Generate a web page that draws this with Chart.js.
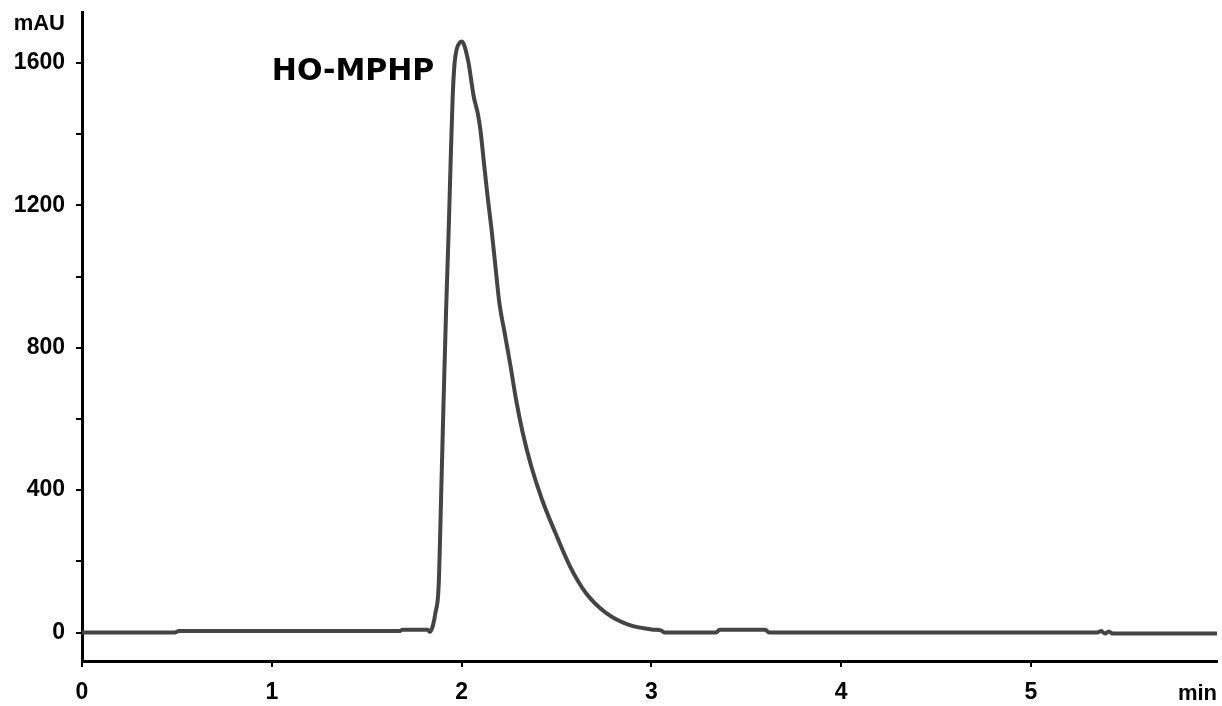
<!DOCTYPE html>
<html>
<head>
<meta charset="utf-8">
<script src="https://cdn.jsdelivr.net/npm/chart.js@4/dist/chart.umd.min.js"></script>
<style>
  html, body { margin: 0; padding: 0; background: #fff; }
  #wrap { width: 1222px; height: 706px; position: relative; }
</style>
</head>
<body>
<div id="wrap"><canvas id="chromatogram"></canvas></div>
<script>
// retention time (min) and absorbance (mAU)
var times = [0, 0.49, 0.51, 1.67, 1.69, 1.82, 1.833, 1.848, 1.862, 1.879, 1.893, 1.905, 1.918,
	1.932, 1.942, 1.953, 1.963, 1.975, 1.99, 2.0, 2.01, 2.022, 2.037, 2.064, 2.085, 2.099,
	2.118, 2.137, 2.158, 2.178, 2.198, 2.228, 2.258, 2.287, 2.322, 2.367, 2.424, 2.494,
	2.571, 2.655, 2.761, 2.878, 3.01, 3.05, 3.07, 3.34, 3.36, 3.6, 3.62,
	5.35, 5.37, 5.39, 5.41, 5.43, 5.98];
var signal = [0, 0, 4, 4, 8, 8, 2, 18, 55, 130, 400, 650, 900,
	1131, 1318, 1505, 1599, 1640, 1657, 1660, 1655, 1635, 1599, 1505, 1459, 1412,
	1318, 1225, 1131, 1030, 930, 838, 748, 654, 561, 467, 373, 280,
	186, 111, 55, 22, 8, 6, 0, 0, 8, 8, 0,
	0, 4, -3, 3, -3, -3];

var xTicks = [0, 1, 2, 3, 4, 5];
var yTicks = [0, 200, 400, 600, 800, 1000, 1200, 1400, 1600];
var yLabelled = [0, 400, 800, 1200, 1600];

var peakName = 'HO-MPHP';
var peakLabelAt = [1.0, 1552];

var tickFont = { family: '"Liberation Sans", Arial, sans-serif', size: 23, weight: 'bold' };

var points = [];
for (var i = 0; i < times.length; i++) {
	points.push({ x: times[i], y: signal[i] });
}

// no extra room for overflowing tick labels, the layout padding decides
function noLabelPadding(scale) {
	scale.paddingTop = 0;
	scale.paddingBottom = 0;
	scale.paddingLeft = 0;
	scale.paddingRight = 0;
}

var textPlugin = {
	id: 'chromText',
	afterDraw: function (chart) {
		var ctx = chart.ctx;
		var area = chart.chartArea;
		var xs = chart.scales.x, ys = chart.scales.y;
		ctx.save();
		ctx.fillStyle = '#000';
		ctx.textBaseline = 'alphabetic';
		ctx.font = 'bold 22px "Liberation Sans", Arial, sans-serif';
		ctx.textAlign = 'right';
		ctx.fillText('mAU', area.left - 17, 30);
		ctx.fillText('min', area.right, 700);
		ctx.textAlign = 'left';
		ctx.font = 'bold 30px "DejaVu Sans", Verdana, sans-serif';
		ctx.fillText(peakName, xs.getPixelForValue(peakLabelAt[0]), ys.getPixelForValue(peakLabelAt[1]));
		ctx.restore();
	}
};

var ctx = document.getElementById('chromatogram').getContext('2d');
var chart = new Chart(ctx, {
	type: 'line',
	data: {
		datasets: [{
			data: points,
			borderColor: '#444444',
			borderWidth: 4,
			pointRadius: 0,
			fill: false,
			cubicInterpolationMode: 'monotone'
		}]
	},
	options: {
		responsive: true,
		maintainAspectRatio: false,
		animation: false,
		layout: { padding: { top: 12, right: 5, left: 0, bottom: 0 } },
		plugins: { legend: { display: false }, tooltip: { enabled: false } },
		scales: {
			x: {
				type: 'linear',
				min: 0,
				max: 5.98,
				afterBuildTicks: function (scale) {
					scale.ticks = xTicks.map(function (v) { return { value: v }; });
				},
				afterFit: function (scale) { scale.height = 45; noLabelPadding(scale); },
				grid: { drawOnChartArea: false, drawTicks: true, tickLength: 6, color: '#000', lineWidth: 2 },
				border: { display: true, color: '#000', width: 3 },
				ticks: { color: '#000', font: tickFont, padding: 12, maxRotation: 0 }
			},
			y: {
				type: 'linear',
				min: -80,
				max: 1743,
				afterBuildTicks: function (scale) {
					scale.ticks = yTicks.map(function (v) { return { value: v }; });
				},
				afterFit: function (scale) { scale.width = 82; noLabelPadding(scale); },
				grid: { drawOnChartArea: false, drawTicks: true, tickLength: 6, color: '#000', lineWidth: 2 },
				border: { display: true, color: '#000', width: 3 },
				ticks: {
					color: '#000',
					font: tickFont,
					padding: 11,
					callback: function (v) { return yLabelled.indexOf(v) >= 0 ? String(v) : ''; }
				}
			}
		}
	},
	plugins: [textPlugin]
});
</script>
</body>
</html>
